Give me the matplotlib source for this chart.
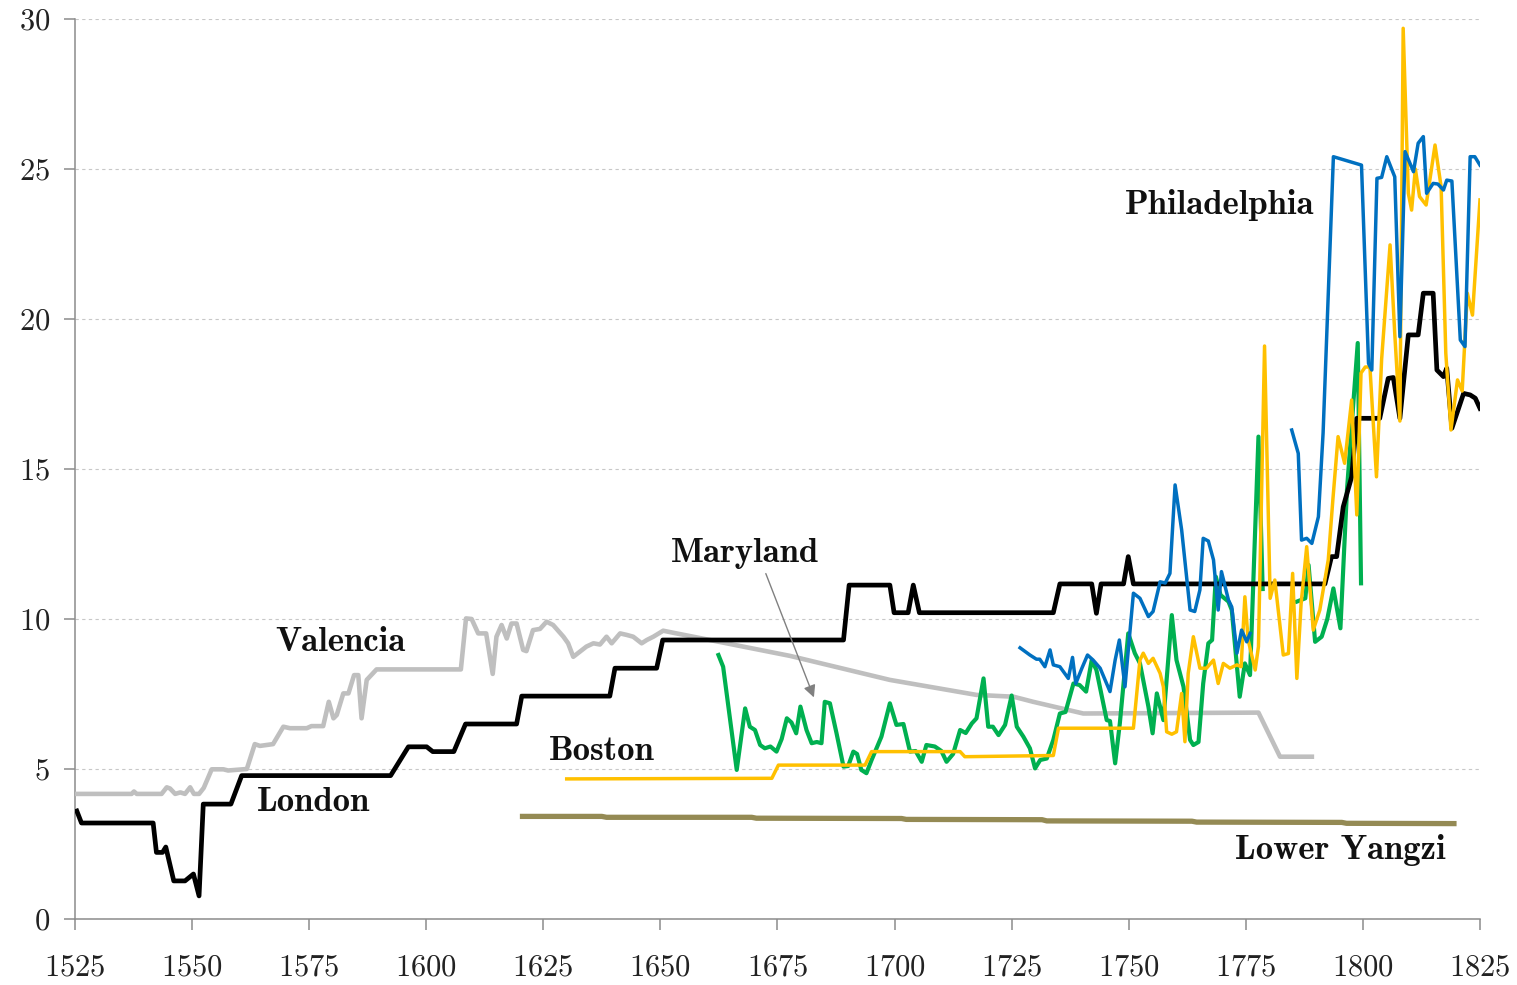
import numpy as np
import matplotlib
matplotlib.use("Agg")
import matplotlib.pyplot as plt

plt.rcParams['font.family'] = ['cmr10', 'DejaVu Serif']
plt.rcParams['axes.formatter.use_mathtext'] = True

nan = np.nan

# London (black)
london_years = [1525.4, 1526.4, 1541.7, 1542.4, 1543.7, 1544.4, 1546.1, 1548.5, 1550.3, 1551.5,
                1552.4, 1558.3, 1560.6, 1592.4, 1596.2, 1600.1, 1601.4, 1605.9, 1608.4, 1619.3,
                1620.4, 1639.2, 1640.3, 1649.2, 1650.5, 1689.1, 1690.3, 1699.0, 1699.9, 1702.9,
                1704.0, 1705.3, 1733.9, 1735.3, 1742.1, 1743.1, 1744.1, 1748.9, 1749.9, 1751.0,
                1791.9, 1793.3, 1794.4, 1795.8, 1797.6, 1798.7, 1803.6, 1805.4, 1806.5, 1807.9,
                1809.7, 1811.8, 1812.9, 1815.0, 1815.8, 1817.2, 1817.9, 1819.0, 1821.5, 1822.9,
                1824.0, 1825.0]
london_vals = [3.6, 3.2, 3.2, 2.22, 2.22, 2.4, 1.27, 1.27, 1.5, 0.77,
               3.83, 3.83, 4.78, 4.78, 5.74, 5.74, 5.58, 5.58, 6.5, 6.5,
               7.43, 7.43, 8.36, 8.36, 9.3, 9.3, 11.13, 11.13, 10.21, 10.21,
               11.13, 10.21, 10.21, 11.17, 11.17, 10.19, 11.17, 11.17, 12.08, 11.17,
               11.17, 12.08, 12.08, 13.74, 14.74, 16.69, 16.69, 18.02, 18.05, 16.69,
               19.47, 19.47, 20.86, 20.86, 18.3, 18.08, 18.36, 16.36, 17.52, 17.47,
               17.36, 17.02]

# Valencia (grey)
valencia_years = [1525.4, 1537.1, 1537.6, 1538.2, 1543.5, 1544.6, 1545.3, 1546.4, 1547.5, 1548.5,
                  1549.6, 1550.4, 1551.5, 1552.5, 1554.2, 1556.7, 1557.7, 1561.7, 1563.4, 1564.5,
                  1567.3, 1569.5, 1570.9, 1574.5, 1575.5, 1578.0, 1579.2, 1580.2, 1580.9, 1582.3,
                  1583.4, 1584.6, 1585.5, 1586.2, 1587.3, 1589.4, 1607.4, 1608.5, 1609.7, 1611.1,
                  1612.8, 1614.2, 1615.0, 1616.1, 1617.2, 1618.2, 1619.3, 1620.7, 1621.4, 1622.8,
                  1624.3, 1625.7, 1627.1, 1629.3, 1630.3, 1631.4, 1632.8, 1634.2, 1635.7, 1637.1,
                  1638.5, 1639.6, 1641.4, 1642.8, 1644.2, 1646.0, 1647.1, 1648.5, 1650.6, 1652.8,
                  1677.7, 1699.0, 1717.5, 1725.4, 1729.6, 1740.3, 1777.7, 1782.3, 1789.1]
valencia_vals = [4.17, 4.17, 4.25, 4.17, 4.17, 4.39, 4.35, 4.17, 4.22, 4.17,
                 4.39, 4.17, 4.17, 4.37, 4.99, 4.99, 4.95, 5.0, 5.83, 5.77,
                 5.83, 6.41, 6.36, 6.36, 6.43, 6.43, 7.24, 6.69, 6.8, 7.52,
                 7.52, 8.13, 8.13, 6.69, 7.97, 8.32, 8.32, 10.02, 10.0, 9.52,
                 9.52, 8.17, 9.41, 9.8, 9.35, 9.85, 9.85, 8.97, 8.93, 9.63,
                 9.67, 9.91, 9.8, 9.41, 9.19, 8.74, 8.91, 9.08, 9.19, 9.15,
                 9.41, 9.19, 9.52, 9.47, 9.41, 9.19, 9.3, 9.41, 9.61, 9.54,
                 8.77, 7.97, 7.47, 7.41, 7.24, 6.85, 6.88, 5.41, 5.41]

# Boston (gold)
boston_years = [1630.0, 1673.8, 1675.2, 1693.7, 1695.1, 1714.0, 1715.0, 1733.9, 1735.0, 1751.0,
                1752.4, 1753.1, 1754.2, 1755.2, 1756.7, 1757.4, 1758.1, 1759.2, 1760.2, 1761.3,
                1762.0, 1762.7, 1763.8, 1765.2, 1766.6, 1768.1, 1769.1, 1770.2, 1771.6, 1773.1,
                1774.0, 1774.8, 1775.5, 1777.0, 1777.7, 1779.0, 1780.2, 1781.2, 1783.0, 1784.1,
                1785.0, 1785.9, 1786.8, 1788.0, 1789.4, 1790.8, 1792.6, 1793.6, 1794.7, 1796.1,
                1797.6, 1798.7, 1799.6, 1800.5, 1801.5, 1802.9, 1804.0, 1805.8, 1806.8, 1807.9,
                1808.6, 1809.7, 1810.4, 1811.2, 1812.1, 1813.5, 1815.4, 1816.7, 1817.7, 1818.8,
                1820.2, 1821.2, 1822.3, 1823.4, 1825.0]
boston_vals = [4.67, 4.69, 5.13, 5.13, 5.58, 5.58, 5.41, 5.45, 6.36, 6.36,
               8.63, 8.86, 8.52, 8.69, 8.19, 7.74, 6.24, 6.16, 6.24, 7.52,
               5.91, 8.19, 9.41, 8.36, 8.36, 8.63, 7.85, 8.52, 8.36, 8.47,
               8.41, 10.74, 9.3, 8.3, 9.08, 19.1, 10.69, 11.3, 8.8, 8.85,
               11.52, 8.02, 10.5, 12.41, 9.63, 10.3, 11.97, 14.0, 16.08, 15.19,
               17.3, 13.47, 18.2, 18.4, 18.4, 14.74, 18.66, 22.47, 19.52, 16.6,
               29.69, 24.19, 23.63, 25.0, 24.08, 23.8, 25.8, 24.41, 18.86, 16.3,
               17.97, 17.6, 20.86, 20.13, 23.97]

# Maryland (green)
maryland_years = [1662.4, 1663.4, 1666.3, 1668.1, 1669.1, 1670.2, 1671.3, 1672.3, 1673.5, 1674.8,
                  1675.9, 1677.0, 1678.0, 1679.0, 1679.9, 1681.2, 1682.3, 1683.4, 1684.4, 1685.1,
                  1686.2, 1687.6, 1689.1, 1690.1, 1691.2, 1692.0, 1692.9, 1694.0, 1695.1, 1697.2,
                  1699.0, 1700.4, 1701.9, 1703.3, 1704.5, 1705.8, 1706.8, 1708.6, 1710.0, 1711.1,
                  1712.5, 1714.0, 1715.2, 1716.5, 1717.5, 1719.0, 1720.0, 1721.0, 1722.2, 1723.6,
                  1725.0, 1726.1, 1727.5, 1728.9, 1730.0, 1731.1, 1732.5, 1733.9, 1735.3, 1736.5,
                  1738.2, 1739.5, 1740.9, 1742.1, 1743.1, 1745.3, 1746.0, 1747.1, 1748.1, 1749.9,
                  1751.3, 1752.4, 1754.2, 1755.1, 1756.0, 1757.4, 1759.2, 1760.2, 1761.7, 1763.1,
                  1763.8, 1764.9, 1765.9, 1767.0, 1767.8, 1768.6, 1769.6, 1771.3, 1772.0, 1773.7,
                  1774.8, 1775.9, 1777.7, 1778.6, 1782.0, 1785.9, 1787.7, 1788.4, 1789.8, 1791.2,
                  1792.4, 1793.7, 1795.2, 1796.6, 1798.9, 1799.6]
maryland_vals = [8.8, 8.41, 4.97, 7.02, 6.41, 6.3, 5.8, 5.69, 5.75, 5.58,
                 6.0, 6.69, 6.55, 6.19, 7.08, 6.3, 5.86, 5.9, 5.86, 7.24,
                 7.19, 6.2, 5.08, 5.1, 5.58, 5.5, 4.97, 4.86, 5.3, 6.08,
                 7.19, 6.47, 6.5, 5.58, 5.6, 5.24, 5.8, 5.75, 5.6, 5.24,
                 5.5, 6.3, 6.2, 6.52, 6.69, 8.02, 6.41, 6.41, 6.13, 6.47,
                 7.45, 6.41, 6.08, 5.69, 5.02, 5.3, 5.35, 5.97, 6.85, 6.9,
                 7.85, 7.8, 7.58, 8.63, 8.3, 6.63, 6.6, 5.19, 6.52, 9.52,
                 8.86, 8.52, 7.08, 6.19, 7.52, 6.63, 10.13, 8.63, 7.74, 5.97,
                 5.8, 5.9, 7.85, 9.19, 9.3, 11.41, 10.8, 10.58, 10.3, 7.41,
                 8.52, 8.13, 16.08, 11.0, nan, 10.58, 10.69, 11.8, 9.24, 9.41,
                 10.0, 11.02, 9.69, 14.3, 19.2, 11.19]

# Philadelphia (blue)
phila_years = [1726.8, 1728.9, 1730.3, 1731.0, 1732.1, 1733.2, 1733.9, 1735.3, 1737.1, 1738.0,
               1738.7, 1740.0, 1741.2, 1742.4, 1743.9, 1746.0, 1747.1, 1748.0, 1749.2, 1751.0,
               1752.4, 1754.2, 1755.2, 1756.7, 1757.8, 1758.8, 1759.9, 1761.3, 1763.1, 1764.1,
               1765.2, 1765.9, 1767.0, 1768.1, 1769.1, 1769.8, 1771.3, 1772.0, 1773.1, 1774.1,
               1775.2, 1775.9, 1780.0, 1784.8, 1786.2, 1786.9, 1788.0, 1789.1, 1790.5, 1791.5,
               1793.7, 1799.7, 1801.2, 1801.9, 1803.0, 1804.0, 1805.1, 1806.8, 1807.9, 1809.0,
               1810.8, 1811.8, 1812.9, 1813.6, 1815.0, 1816.0, 1817.2, 1817.9, 1819.0, 1820.8,
               1821.8, 1822.9, 1823.9, 1825.0]
phila_vals = [9.04, 8.8, 8.66, 8.66, 8.41, 8.97, 8.47, 8.41, 8.02, 8.72,
              7.85, 8.36, 8.8, 8.63, 8.36, 7.58, 8.63, 9.3, 7.74, 10.86,
              10.69, 10.08, 10.25, 11.24, 11.2, 11.52, 14.47, 12.97, 10.3, 10.25,
              10.97, 12.69, 12.6, 11.97, 10.3, 11.58, 10.63, 10.4, 8.86, 9.63,
              9.24, 9.52, nan, 16.3, 15.52, 12.63, 12.69, 12.52, 13.41, 16.2,
              25.41, 25.13, 18.52, 18.3, 24.69, 24.72, 25.41, 24.74, 19.41, 25.58,
              24.91, 25.86, 26.08, 24.19, 24.52, 24.5, 24.3, 24.63, 24.6, 19.3,
              19.08, 25.41, 25.41, 25.13]

# Lower Yangzi (olive)
yangzi_years = [1620.0, 1637.5, 1638.5, 1669.5, 1670.5, 1701.5, 1702.5, 1731.5, 1732.5, 1763.5,
                1764.5, 1795.5, 1796.5, 1820.0]
yangzi_vals = [3.42, 3.42, 3.39, 3.39, 3.36, 3.35, 3.32, 3.31, 3.27, 3.26,
               3.23, 3.22, 3.19, 3.18]

fig = plt.figure(figsize=(15.17, 9.85), dpi=100)
ax = fig.add_axes([0.0494, 0.067, 0.9262, 0.9137])

ax.plot(yangzi_years, yangzi_vals, color='#948A54', lw=3.8, solid_capstyle='butt', zorder=3)
ax.plot(valencia_years, valencia_vals, color='#BFBFBF', lw=3.3, zorder=3)
ax.plot(maryland_years, maryland_vals, color='#00B050', lw=3.0, zorder=4)
ax.plot(london_years, london_vals, color='black', lw=3.4, zorder=5)
ax.plot(boston_years, boston_vals, color='#FFC000', lw=2.5, zorder=6)
ax.plot(phila_years, phila_vals, color='#0070C0', lw=2.5, zorder=7)

ax.set_xlim(1525, 1825)
ax.set_ylim(0, 30)
ax.set_xticks(np.arange(1525, 1826, 25))
ax.set_yticks(np.arange(0, 31, 5))
ax.grid(axis='y', color='#C8C8C8', linestyle=(0, (3, 3)), lw=0.8)
ax.set_axisbelow(True)
for s in ['top', 'right']:
    ax.spines[s].set_visible(False)
for s in ['left', 'bottom']:
    ax.spines[s].set_color('#8C8C8C')
    ax.spines[s].set_linewidth(1.1)
ax.tick_params(axis='both', direction='out', length=8, width=1.1, color='#8C8C8C',
               labelsize=22, labelcolor='#222222')
ax.tick_params(axis='x', pad=17)
ax.tick_params(axis='y', pad=10)

lab = dict(fontfamily=['cmb10', 'DejaVu Serif'], fontsize=25, ha='center', va='center', color='#111111')
ax.text(1769.5, 23.8, 'Philadelphia', **lab)
ax.text(1668.1, 12.2, 'Maryland', **lab)
ax.text(1581.6, 9.23, 'Valencia', **lab)
ax.text(1637.5, 5.57, 'Boston', **lab)
ax.text(1576.0, 3.9, 'London', **lab)
ax.text(1795.1, 2.3, 'Lower Yangzi', **lab)

ax.annotate('', xy=(1683.0, 7.3), xytext=(1672.3, 11.6),
            arrowprops=dict(arrowstyle='-|>', color='#808080', lw=1.0, mutation_scale=18),
            zorder=8)

fig.savefig('out.png', dpi=100)
